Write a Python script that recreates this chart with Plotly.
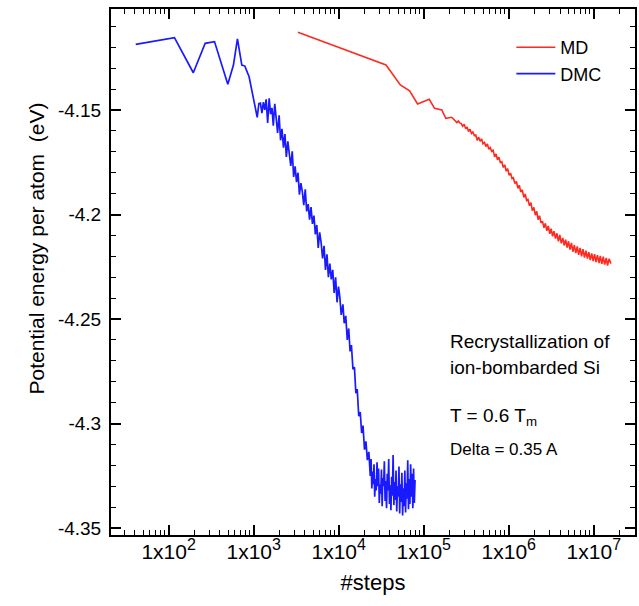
import plotly.graph_objects as go

# ---------------- data ----------------
dmc_steps = [
    41, 117, 195, 269, 346, 496, 578, 644, 725, 787,
    883, 1100, 1150, 1200, 1250, 1300, 1350, 1400, 1460, 1520,
    1580, 1640, 1700, 1770, 1840, 1910, 1990, 2070, 2150, 2240,
    2330, 2420, 2520, 2620, 2730, 2840, 2950, 3070, 3190, 3320,
    3450, 3590, 3730, 3880, 4040, 4200, 4370, 4540, 4720, 4910,
    5110, 5310, 5520, 5740, 5970, 6210, 6460, 6720, 6990, 7270,
    7560, 7860, 8170, 8500, 8840, 9190, 9560, 9940, 10300, 10700,
    11200, 11600, 12100, 12600, 13100, 13600, 14100, 14700, 15300, 15900,
    16500, 17200, 17900, 18600, 19300, 20100, 20900, 21700, 22600, 23500,
    24000, 24500, 25000, 25500, 26000, 26500, 27000, 27600, 28200, 28800,
    29400, 30000, 30600, 31200, 31800, 32400, 33000, 33700, 34400, 35100,
    35800, 36500, 37200, 37900, 38700, 39500, 40300, 41100, 41900, 42700,
    43600, 44500, 45400, 46300, 47200, 48100, 49100, 50100, 51100, 52100,
    53100, 54200, 55300, 56400, 57500, 58700, 59900, 61100, 62300, 63500,
    64800, 66100, 67400, 68700, 70100, 71500, 72900, 74400, 75900, 77400,
    79000,
]
dmc_energy = [
    -4.1186, -4.1154, -4.1322, -4.1181, -4.1173, -4.1377, -4.1285, -4.1160, -4.1285, -4.1290,
    -4.1341, -4.1535, -4.1470, -4.1467, -4.1515, -4.1462, -4.1500, -4.1449, -4.1562, -4.1444,
    -4.1520, -4.1490, -4.1575, -4.1470, -4.1540, -4.1610, -4.1525, -4.1645, -4.1590, -4.1680,
    -4.1615, -4.1725, -4.1650, -4.1705, -4.1768, -4.1698, -4.1820, -4.1770, -4.1845, -4.1800,
    -4.1905, -4.1850, -4.1890, -4.1955, -4.1880, -4.1985, -4.1950, -4.2025, -4.1965, -4.2045,
    -4.2005, -4.2095, -4.2050, -4.2160, -4.2085, -4.2135, -4.2210, -4.2150, -4.2265, -4.2190,
    -4.2300, -4.2235, -4.2310, -4.2265, -4.2375, -4.2300, -4.2420, -4.2345, -4.2395, -4.2480,
    -4.2430, -4.2520, -4.2485, -4.2600, -4.2545, -4.2655, -4.2625, -4.2740, -4.2730, -4.2855,
    -4.2835, -4.2965, -4.2945, -4.3045, -4.3010, -4.3125, -4.3085, -4.3175, -4.3135, -4.3250,
    -4.3170, -4.3310, -4.3230, -4.3290, -4.3195, -4.3350, -4.3265, -4.3320, -4.3185, -4.3300,
    -4.3215, -4.3380, -4.3290, -4.3335, -4.3220, -4.3395, -4.3260, -4.3300, -4.3180, -4.3370,
    -4.3275, -4.3405, -4.3240, -4.3320, -4.3170, -4.3385, -4.3295, -4.3415, -4.3255, -4.3345,
    -4.3150, -4.3390, -4.3280, -4.3365, -4.3225, -4.3420, -4.3300, -4.3350, -4.3205, -4.3430,
    -4.3290, -4.3375, -4.3235, -4.3440, -4.3310, -4.3395, -4.3225, -4.3425, -4.3285, -4.3360,
    -4.3175, -4.3410, -4.3265, -4.3385, -4.3195, -4.3350, -4.3240, -4.3405, -4.3215, -4.3380,
    -4.3270,
]

md_steps = [
    3315, 35960, 53030, 68150, 84560, 116000, 133800, 163000, 181600, 213500,
    245000, 255000, 265000, 276000, 287000, 299000, 311000, 323000, 336000, 350000,
    364000, 378000, 393000, 409000, 425000, 442000, 460000, 478000, 497000, 517000,
    538000, 560000, 582000, 605000, 629000, 654000, 681000, 708000, 736000, 765000,
    796000, 828000, 861000, 895000, 931000, 968000, 1010000, 1050000, 1090000, 1130000,
    1180000, 1230000, 1280000, 1330000, 1380000, 1440000, 1500000, 1560000, 1620000, 1680000,
    1750000, 1820000, 1890000, 1970000, 2050000, 2130000, 2210000, 2300000, 2390000, 2490000,
    2590000, 2690000, 2800000, 2910000, 3030000, 3150000, 3270000, 3400000, 3540000, 3680000,
    3830000, 3980000, 4140000, 4310000, 4480000, 4660000, 4850000, 5040000, 5240000, 5450000,
    5670000, 5900000, 6130000, 6380000, 6630000, 6900000, 7170000, 7460000, 7760000, 8070000,
    8390000, 8730000, 9080000, 9440000, 9820000, 10200000, 10600000, 11000000, 11500000, 11900000,
    12400000, 12900000, 13400000, 14000000, 14500000, 15100000, 15900000,
]
md_energy = [
    -4.1128, -4.1285, -4.1380, -4.1408, -4.1471, -4.1449, -4.1492, -4.1500, -4.1540, -4.1535,
    -4.1560, -4.1553, -4.1562, -4.1565, -4.1578, -4.1568, -4.1590, -4.1582, -4.1603, -4.1592,
    -4.1612, -4.1605, -4.1622, -4.1620, -4.1645, -4.1630, -4.1650, -4.1638, -4.1662, -4.1655,
    -4.1675, -4.1662, -4.1688, -4.1680, -4.1698, -4.1692, -4.1724, -4.1710, -4.1738, -4.1726,
    -4.1752, -4.1748, -4.1775, -4.1762, -4.1793, -4.1780, -4.1812, -4.1802, -4.1828, -4.1824,
    -4.1852, -4.1842, -4.1875, -4.1860, -4.1892, -4.1882, -4.1918, -4.1902, -4.1933, -4.1928,
    -4.1958, -4.1943, -4.1982, -4.1966, -4.2003, -4.1985, -4.2025, -4.2006, -4.2040, -4.2032,
    -4.2064, -4.2042, -4.2078, -4.2055, -4.2092, -4.2068, -4.2104, -4.2080, -4.2115, -4.2090,
    -4.2128, -4.2098, -4.2138, -4.2112, -4.2148, -4.2120, -4.2158, -4.2128, -4.2168, -4.2136,
    -4.2178, -4.2146, -4.2185, -4.2153, -4.2193, -4.2160, -4.2200, -4.2166, -4.2206, -4.2173,
    -4.2211, -4.2180, -4.2218, -4.2186, -4.2223, -4.2190, -4.2228, -4.2194, -4.2232, -4.2198,
    -4.2236, -4.2202, -4.2240, -4.2208, -4.2244, -4.2212, -4.2235,
]

x_tick_vals = [1e2, 1e3, 1e4, 1e5, 1e6, 1e7]
x_exponents = ["2", "3", "4", "5", "6", "7"]
x_tick_text = ['1x10<sup><span style="font-size:16px">%s</span></sup>' % e for e in x_exponents]
y_tick_vals = [-4.15, -4.2, -4.25, -4.3, -4.35]
y_tick_text = ["-4.15", "-4.2", "-4.25", "-4.3", "-4.35"]

x_minor_vals = [m * 10 ** d for d in range(1, 8) for m in range(2, 10)]
y_minor_vals = [round(-4.36 + 0.01 * i, 2) for i in range(27)]

FONT = "Liberation Sans, Arial, Helvetica, sans-serif"

fig = go.Figure()
fig.add_trace(go.Scatter(x=md_steps, y=md_energy, mode="lines", name="MD",
                         line=dict(color="#ff2a1f", width=1.6)))
fig.add_trace(go.Scatter(x=dmc_steps, y=dmc_energy, mode="lines", name="DMC",
                         line=dict(color="#1a1aff", width=1.7)))

axis_common = dict(showline=True, linecolor="black", linewidth=2, mirror="ticks",
                   ticks="inside", tickcolor="black", tickwidth=2, ticklen=10,
                   showgrid=False, zeroline=False)

fig.update_xaxes(type="log", range=[1.322, 7.484],
                 tickmode="array", tickvals=x_tick_vals, ticktext=x_tick_text,
                 tickfont=dict(family=FONT, size=21, color="black"),
                 ticklabelstandoff=-3,
                 minor=dict(tickmode="array", tickvals=x_minor_vals, ticks="inside",
                            ticklen=5, tickwidth=1, tickcolor="black"),
                 title=dict(text="#steps", font=dict(family=FONT, size=22, color="black"),
                            standoff=12),
                 **axis_common)
fig.update_yaxes(range=[-4.3533, -4.1017],
                 tickmode="array", tickvals=y_tick_vals, ticktext=y_tick_text,
                 tickfont=dict(family=FONT, size=19, color="black"),
                 minor=dict(tickmode="array", tickvals=y_minor_vals, ticks="inside",
                            ticklen=5, tickwidth=1, tickcolor="black"),
                 ticklabelstandoff=4,
                 **axis_common)

# y-axis title (placed like the reference, slightly above the plot centre)
fig.add_annotation(xref="paper", yref="paper", x=-0.143, y=0.545, xanchor="center", yanchor="middle",
                   text="Potential energy per atom  (eV)", textangle=-90, showarrow=False,
                   font=dict(family=FONT, size=21, color="black"))

ann_font = dict(family=FONT, size=19, color="black")
fig.add_annotation(xref="paper", yref="paper", x=0.644, y=0.367, xanchor="left", yanchor="middle",
                   text="Recrystallization of", showarrow=False, font=ann_font)
fig.add_annotation(xref="paper", yref="paper", x=0.644, y=0.319, xanchor="left", yanchor="middle",
                   text="ion-bombarded Si", showarrow=False, font=ann_font)
fig.add_annotation(xref="paper", yref="paper", x=0.644, y=0.224, xanchor="left", yanchor="middle",
                   text="T = 0.6 T<sub>m</sub>", showarrow=False, font=ann_font)
fig.add_annotation(xref="paper", yref="paper", x=0.644, y=0.163, xanchor="left", yanchor="middle",
                   text="Delta = 0.35 A", showarrow=False,
                   font=dict(family=FONT, size=17, color="black"))

fig.update_layout(
    width=639, height=606,
    margin=dict(l=111, r=2, t=9, b=71),
    paper_bgcolor="white", plot_bgcolor="white",
    showlegend=True,
    legend=dict(x=0.764, y=0.962, xanchor="left", yanchor="top",
                bgcolor="rgba(0,0,0,0)", font=dict(family=FONT, size=18, color="black"),
                tracegroupgap=0, itemwidth=39),
)

fig.write_html("out.html")
